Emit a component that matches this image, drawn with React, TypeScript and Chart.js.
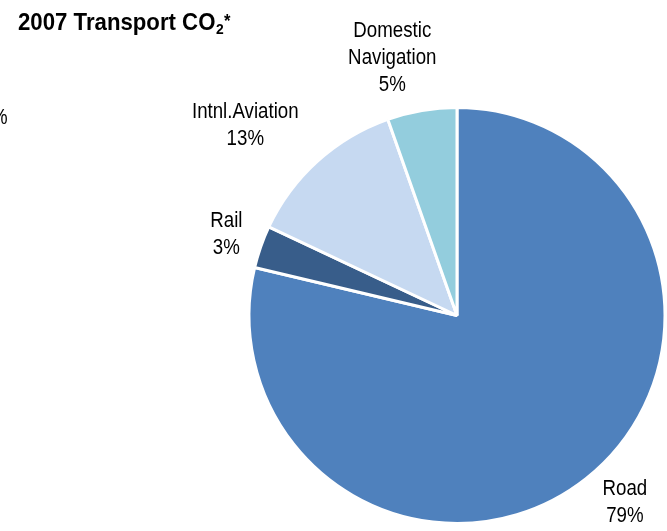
import React, { useEffect, useRef } from "react";
import { Chart, registerables } from "chart.js";

Chart.register(...registerables);

const categories = ["Road", "Rail", "Intnl.Aviation", "Domestic Navigation"];
const shares = [78.7, 3.3, 12.6, 5.4];
const shareLabels = ["79%", "3%", "13%", "5%"];
const labelLines = [["Road"], ["Rail"], ["Intnl.Aviation"], ["Domestic", "Navigation"]];

const sliceColors = ["#4F81BD", "#385D8A", "#C6D9F1", "#93CDDD"];
const FONT = '"Liberation Sans Narrow", "Arial Narrow", "Liberation Sans", Arial, sans-serif';
const LINE_H = 27;
const NARROW = 0.85; // horizontal squeeze to imitate a condensed face
const TITLE_NARROW = 0.925;
// small per-label nudges to mimic the spreadsheet's label placement
const nudges = [
  [13.5, -11.4],
  [-1.6, 2.6],
  [-24, -2.5],
  [-19, 5.6],
];

function drawScaled(ctx: CanvasRenderingContext2D, text: string, x: number, y: number, sx: number) {
  ctx.save();
  ctx.translate(x, y);
  ctx.scale(sx, 1);
  ctx.fillText(text, 0, 0);
  ctx.restore();
}

const labelPlugin = {
  id: "sliceLabels",
  afterDatasetsDraw(chart: any) {
    const ctx: CanvasRenderingContext2D = chart.ctx;
    const meta = chart.getDatasetMeta(0);
    const bw = 3;
    ctx.save();
    ctx.font = `22px ${FONT}`;
    ctx.fillStyle = "#000";
    ctx.textAlign = "center";
    ctx.textBaseline = "middle";
    meta.data.forEach((arc: any, i: number) => {
      const p = arc.getProps(["x", "y", "startAngle", "endAngle", "outerRadius"], true);
      const a = (p.startAngle + p.endAngle) / 2;
      const dx = Math.cos(a);
      const dy = Math.sin(a);
      const r = p.outerRadius - bw / 2 + 20;
      const lines = [...labelLines[i], shareLabels[i]];
      const w = Math.max(...lines.map((l) => ctx.measureText(l).width)) * NARROW;
      const h = lines.length * LINE_H;
      const cx = p.x + dx * r + (dx * w) / 2 + nudges[i][0];
      const cy = p.y + dy * r + (dy * h) / 2 + nudges[i][1];
      lines.forEach((l, k) => {
        drawScaled(ctx, l, cx, cy + (k - (lines.length - 1) / 2) * LINE_H, NARROW);
      });
    });
    // title
    ctx.textAlign = "left";
    ctx.textBaseline = "alphabetic";
    ctx.font = `bold 24px ${FONT}`;
    const main = "2007 Transport CO";
    const x0 = 18;
    drawScaled(ctx, main, x0, 30, TITLE_NARROW);
    const mw = ctx.measureText(main).width * TITLE_NARROW;
    ctx.font = `bold 15px ${FONT}`;
    drawScaled(ctx, "2", x0 + mw + 0.5, 34, TITLE_NARROW);
    const sw = ctx.measureText("2").width * TITLE_NARROW;
    ctx.font = `bold 18px ${FONT}`;
    drawScaled(ctx, "*", x0 + mw + sw + 1, 27, TITLE_NARROW);
    // clipped label of a neighbouring chart
    ctx.font = `22px ${FONT}`;
    drawScaled(ctx, "%", -9, 124, NARROW);
    ctx.restore();
  },
};

export default function App() {
  const ref = useRef<HTMLCanvasElement | null>(null);
  useEffect(() => {
    if (!ref.current) return;
    const chart = new Chart(ref.current, {
      type: "pie",
      data: {
        labels: categories,
        datasets: [
          {
            data: shares,
            backgroundColor: sliceColors,
            borderColor: "#FFFFFF",
            borderWidth: 3,
          },
        ],
      },
      options: {
        responsive: false,
        animation: false,
        devicePixelRatio: 1,
        layout: { padding: { left: 247.5, right: 0.5, top: 106, bottom: 6 } },
        plugins: {
          legend: { display: false },
          tooltip: { enabled: false },
          title: { display: false },
        },
      },
      plugins: [labelPlugin],
    });
    return () => chart.destroy();
  }, []);
  return (
    <div style={{ position: "fixed", left: 0, top: 0, width: 667, height: 531, background: "#fff" }}>
      <canvas ref={ref} width={667} height={531} />
    </div>
  );
}
